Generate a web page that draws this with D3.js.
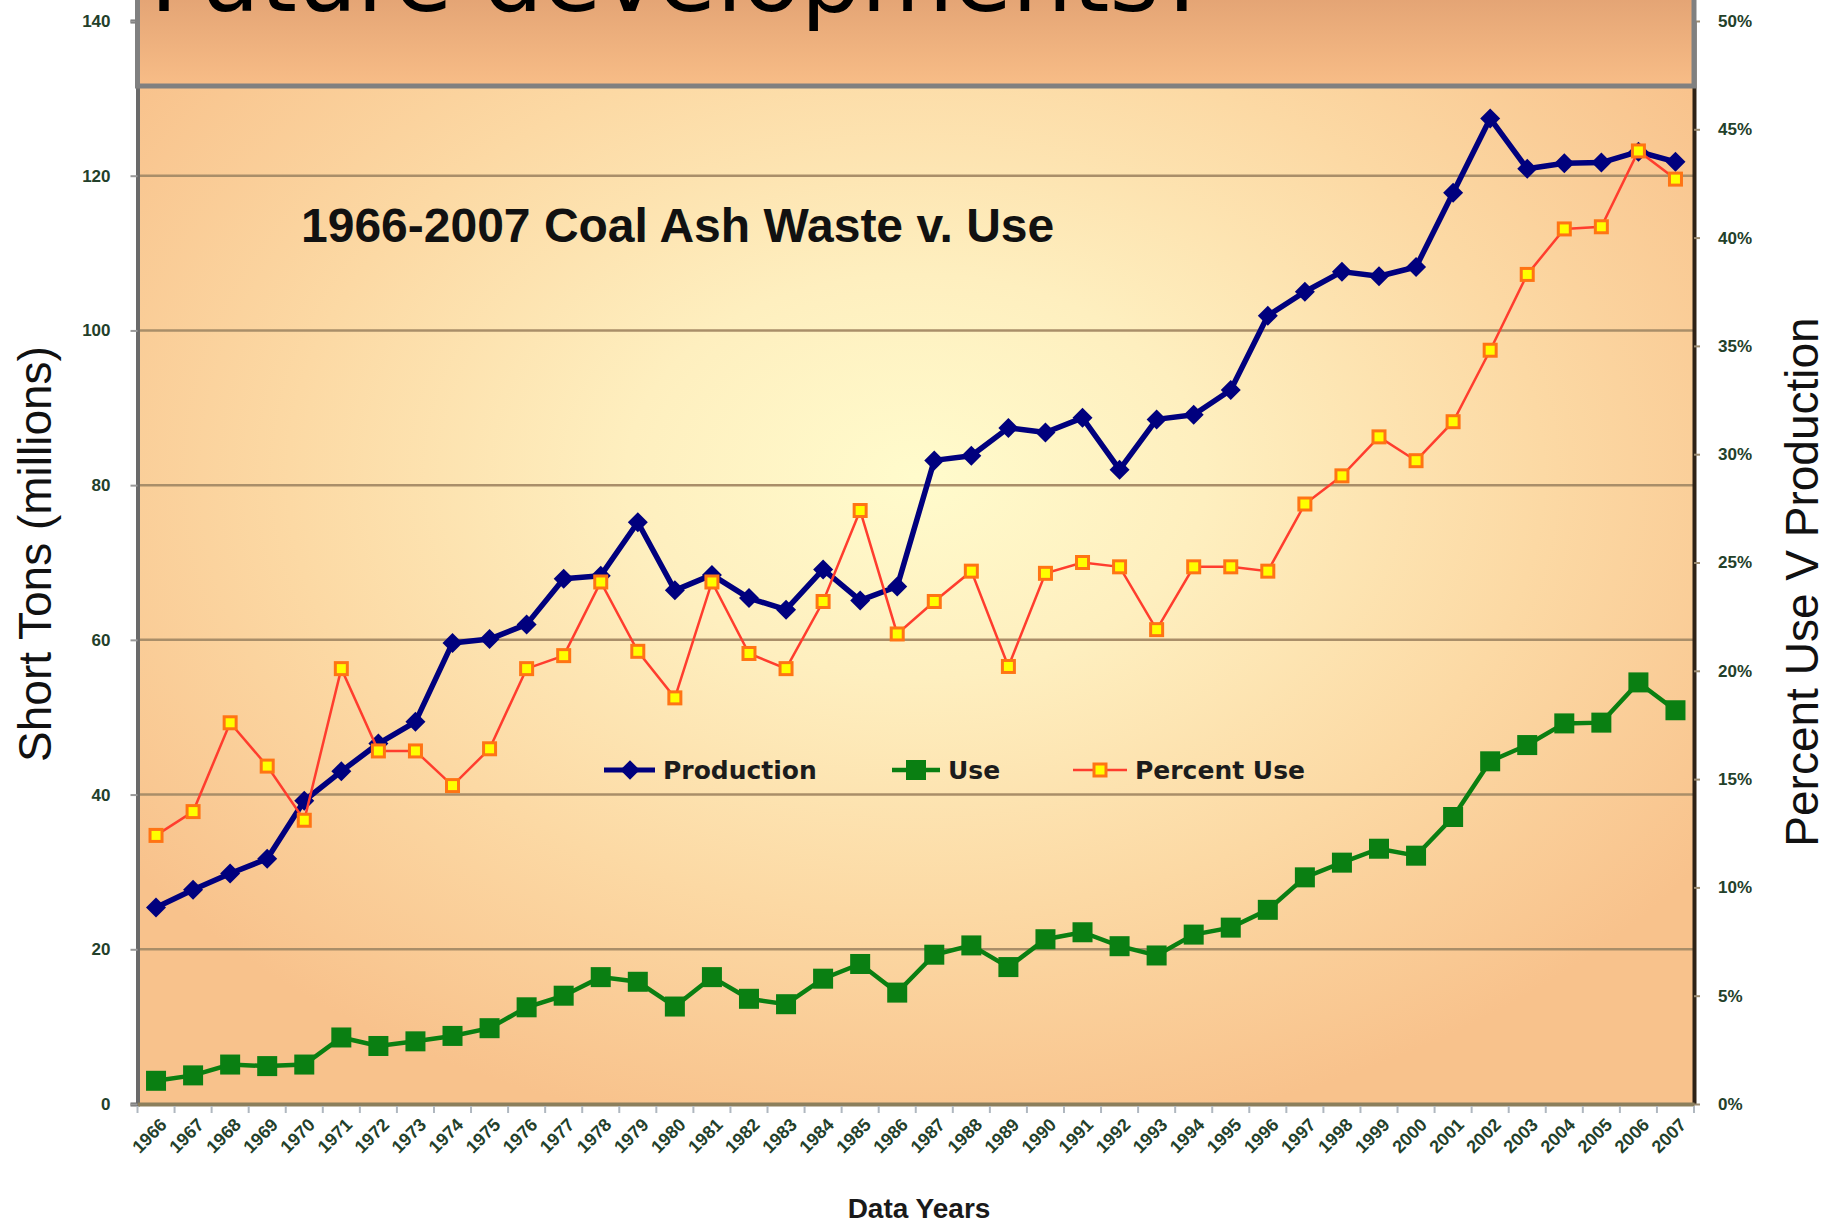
<!DOCTYPE html>
<html>
<head>
<meta charset="utf-8">
<script src="https://d3js.org/d3.v7.min.js"></script>
<title>Coal Ash Waste v. Use</title>
<style>
    body { margin: 0; background: #ffffff; }
    svg { display: block; }
</style>
</head>
<body>
<div id="chart"></div>
<script>
// Data years on the x axis
var years = ['1966', '1967', '1968', '1969', '1970', '1971', '1972', '1973', '1974', '1975',
             '1976', '1977', '1978', '1979', '1980', '1981', '1982', '1983', '1984', '1985',
             '1986', '1987', '1988', '1989', '1990', '1991', '1992', '1993', '1994', '1995',
             '1996', '1997', '1998', '1999', '2000', '2001', '2002', '2003', '2004', '2005',
             '2006', '2007'];

// Short tons (millions)
var production = [25.4, 27.7, 29.8, 31.7, 39.2, 43.0, 46.6, 49.4, 59.6, 60.1,
                  62.0, 67.9, 68.3, 75.2, 66.4, 68.4, 65.4, 63.9, 69.1, 65.1,
                  66.9, 83.2, 83.8, 87.4, 86.8, 88.7, 82.0, 88.5, 89.1, 92.3,
                  101.9, 105.0, 107.6, 107.0, 108.2, 117.8, 127.4, 120.9, 121.6, 121.7,
                  123.1, 121.8];
var use = [3.0, 3.7, 5.1, 4.9, 5.1, 8.6, 7.5, 8.1, 8.8, 9.8,
           12.5, 14.0, 16.4, 15.8, 12.6, 16.4, 13.6, 12.9, 16.2, 18.1,
           14.4, 19.3, 20.5, 17.7, 21.3, 22.2, 20.4, 19.2, 21.9, 22.8,
           25.1, 29.3, 31.2, 33.0, 32.1, 37.1, 44.3, 46.4, 49.2, 49.3,
           54.5, 50.9];

// Percent use v production (right axis)
var percentUse = [12.4, 13.5, 17.6, 15.6, 13.1, 20.1, 16.3, 16.3, 14.7, 16.4,
                  20.1, 20.7, 24.1, 20.9, 18.75, 24.1, 20.8, 20.1, 23.2, 27.4,
                  21.7, 23.2, 24.6, 20.2, 24.5, 25.0, 24.8, 21.9, 24.8, 24.8,
                  24.6, 27.7, 29.0, 30.8, 29.7, 31.5, 34.8, 38.3, 40.4, 40.5,
                  44.0, 42.7];

var leftTicks = [0, 20, 40, 60, 80, 100, 120, 140];
var rightTicks = [0, 5, 10, 15, 20, 25, 30, 35, 40, 45, 50];

var width = 1829, height = 1223;
var margin = {top: 21, right: 135, bottom: 119, left: 137.5};
var tickGreen = '#23402a';

var svg = d3.select('#chart').append('svg')
    .attr('width', width)
    .attr('height', height);

var defs = svg.append('defs');

// Pale yellow glow in the middle, orange towards the edges
var bg = defs.append('radialGradient')
    .attr('id', 'plotBg')
    .attr('cx', 0.5).attr('cy', 0.42).attr('r', 0.62);
bg.append('stop').attr('offset', '0%').attr('stop-color', '#fffbcc');
bg.append('stop').attr('offset', '30%').attr('stop-color', '#feefbf');
bg.append('stop').attr('offset', '65%').attr('stop-color', '#fcd9a4');
bg.append('stop').attr('offset', '100%').attr('stop-color', '#f8c28c');

var boxBg = defs.append('linearGradient')
    .attr('id', 'boxBg')
    .attr('x1', 0).attr('y1', 0).attr('x2', 0).attr('y2', 1);
boxBg.append('stop').attr('offset', '0%').attr('stop-color', '#e2a273');
boxBg.append('stop').attr('offset', '100%').attr('stop-color', '#f8bd87');

var x = d3.scaleBand()
    .domain(years)
    .range([margin.left, width - margin.right]);

var y = d3.scaleLinear()
    .domain([0, 140])
    .range([height - margin.bottom, margin.top]);

var yPct = d3.scaleLinear()
    .domain([0, 50])
    .range([height - margin.bottom, margin.top]);

var cx = function(d, i) { return x(years[i]) + x.bandwidth() / 2; };

// Plot area background
svg.append('rect')
    .attr('x', margin.left)
    .attr('y', margin.top)
    .attr('width', width - margin.left - margin.right)
    .attr('height', height - margin.top - margin.bottom)
    .attr('fill', 'url(#plotBg)');

// Horizontal gridlines
svg.append('g')
    .selectAll('line')
    .data(leftTicks.slice(1))
    .enter().append('line')
    .attr('x1', margin.left)
    .attr('x2', width - margin.right)
    .attr('y1', function(d) { return y(d); })
    .attr('y2', function(d) { return y(d); })
    .attr('stroke', '#a98e69')
    .attr('stroke-width', 2.5);

// Left axis
var leftAxis = svg.append('g')
    .attr('transform', 'translate(' + margin.left + ',0)')
    .call(d3.axisLeft(y).tickValues(leftTicks).tickSize(7).tickPadding(20));
leftAxis.select('.domain').attr('stroke', '#6a6a6a').attr('stroke-width', 4);
leftAxis.selectAll('.tick line').attr('stroke', '#9a9a9a').attr('stroke-width', 2);
leftAxis.selectAll('text')
    .attr('fill', tickGreen)
    .style('font', 'bold 17px "Liberation Sans", Arial, sans-serif');

// Right axis (percent)
var rightAxis = svg.append('g')
    .attr('transform', 'translate(' + (width - margin.right) + ',0)')
    .call(d3.axisRight(yPct).tickValues(rightTicks)
        .tickFormat(function(d) { return d + '%'; })
        .tickSizeInner(6).tickSizeOuter(0).tickPadding(18));
rightAxis.select('.domain').attr('stroke', '#2e2216').attr('stroke-width', 4);
rightAxis.selectAll('.tick line').attr('stroke', '#9a8a70').attr('stroke-width', 2);
rightAxis.selectAll('text')
    .attr('fill', tickGreen)
    .style('font', 'bold 17px "Liberation Sans", Arial, sans-serif');

// Bottom axis: year labels rotated, tick marks between categories
var bottomAxis = svg.append('g')
    .attr('transform', 'translate(0,' + (height - margin.bottom) + ')')
    .call(d3.axisBottom(x).tickSize(0).tickPadding(0));
bottomAxis.select('.domain').attr('stroke', '#8c7f5c').attr('stroke-width', 4);
bottomAxis.selectAll('.tick text')
    .attr('text-anchor', 'end')
    .attr('transform', 'translate(3,13) rotate(-45)')
    .attr('dy', '0.7em')
    .attr('fill', tickGreen)
    .style('font', 'bold 18px "Liberation Sans", Arial, sans-serif');

svg.append('g')
    .selectAll('line')
    .data(years.concat(['end']))
    .enter().append('line')
    .attr('x1', function(d, i) { return i < years.length ? x(d) : x(years[years.length - 1]) + x.bandwidth(); })
    .attr('x2', function(d, i) { return i < years.length ? x(d) : x(years[years.length - 1]) + x.bandwidth(); })
    .attr('y1', height - margin.bottom + 2)
    .attr('y2', height - margin.bottom + 9)
    .attr('stroke', '#b0b8c0')
    .attr('stroke-width', 2);

// Axis titles
svg.append('text')
    .attr('transform', 'translate(51,' + 554 + ') rotate(-90)')
    .attr('text-anchor', 'middle')
    .attr('fill', '#111')
    .style('font', '46px "Liberation Sans", Arial, sans-serif')
    .text('Short Tons (millions)');

svg.append('text')
    .attr('transform', 'translate(1818,' + 582 + ') rotate(-90)')
    .attr('text-anchor', 'middle')
    .attr('fill', '#111')
    .style('font', '46px "Liberation Sans", Arial, sans-serif')
    .text('Percent Use V Production');

svg.append('text')
    .attr('x', 919)
    .attr('y', 1218)
    .attr('text-anchor', 'middle')
    .attr('fill', '#1a1a1a')
    .style('font', 'bold 28px "Liberation Sans", Arial, sans-serif')
    .text('Data Years');

// Chart title
svg.append('text')
    .attr('x', 301)
    .attr('y', 242)
    .attr('fill', '#111')
    .style('font', 'bold 48px "Liberation Sans", Arial, sans-serif')
    .text('1966-2007 Coal Ash Waste v. Use');

// Lines
var prodLine = d3.line().x(cx).y(function(d) { return y(d); });
var pctLine = d3.line().x(cx).y(function(d) { return yPct(d); });

svg.append('path')
    .datum(production)
    .attr('d', prodLine)
    .attr('fill', 'none')
    .attr('stroke', '#00007e')
    .attr('stroke-width', 5.5)
    .attr('stroke-linejoin', 'round');

svg.append('g')
    .selectAll('path')
    .data(production)
    .enter().append('path')
    .attr('d', d3.symbol().type(d3.symbolSquare).size(200))
    .attr('transform', function(d, i) { return 'translate(' + cx(d, i) + ',' + y(d) + ') rotate(45)'; })
    .attr('fill', '#00007e');

svg.append('path')
    .datum(use)
    .attr('d', prodLine)
    .attr('fill', 'none')
    .attr('stroke', '#0a7f12')
    .attr('stroke-width', 4.5);

svg.append('g')
    .selectAll('rect')
    .data(use)
    .enter().append('rect')
    .attr('x', function(d, i) { return cx(d, i) - 10; })
    .attr('y', function(d) { return y(d) - 10; })
    .attr('width', 20)
    .attr('height', 20)
    .attr('fill', '#0a7f12');

svg.append('path')
    .datum(percentUse)
    .attr('d', pctLine)
    .attr('fill', 'none')
    .attr('stroke', '#ff3d2e')
    .attr('stroke-width', 2.5);

svg.append('g')
    .selectAll('rect')
    .data(percentUse)
    .enter().append('rect')
    .attr('x', function(d, i) { return cx(d, i) - 6; })
    .attr('y', function(d) { return yPct(d) - 6; })
    .attr('width', 12)
    .attr('height', 12)
    .attr('fill', '#ffff00')
    .attr('stroke', '#ff7414')
    .attr('stroke-width', 3);

// Legend
var legendItems = [
    {name: 'Production', text: 663},
    {name: 'Use', text: 948},
    {name: 'Percent Use', text: 1135}
];
var ly = 770;
var legend = svg.append('g');

legend.append('line').attr('x1', 604).attr('x2', 655).attr('y1', ly).attr('y2', ly)
    .attr('stroke', '#00007e').attr('stroke-width', 5);
legend.append('path')
    .attr('d', d3.symbol().type(d3.symbolSquare).size(190))
    .attr('transform', 'translate(630,' + ly + ') rotate(45)')
    .attr('fill', '#00007e');

legend.append('line').attr('x1', 892).attr('x2', 940).attr('y1', ly).attr('y2', ly)
    .attr('stroke', '#0a7f12').attr('stroke-width', 4.5);
legend.append('rect').attr('x', 906).attr('y', ly - 10).attr('width', 20).attr('height', 20)
    .attr('fill', '#0a7f12');

legend.append('line').attr('x1', 1073).attr('x2', 1127).attr('y1', ly).attr('y2', ly)
    .attr('stroke', '#ff3d2e').attr('stroke-width', 2.5);
legend.append('rect').attr('x', 1094).attr('y', ly - 6).attr('width', 12).attr('height', 12)
    .attr('fill', '#ffff00').attr('stroke', '#ff7414').attr('stroke-width', 3);

legend.selectAll('text')
    .data(legendItems)
    .enter().append('text')
    .attr('x', function(d) { return d.text; })
    .attr('y', ly + 9)
    .attr('fill', '#1c1c1c')
    .style('font', 'bold 25px "DejaVu Sans", Verdana, sans-serif')
    .text(function(d) { return d.name; });

// Slide title box laid over the top of the chart (its text runs off the top edge)
svg.append('rect')
    .attr('x', margin.left)
    .attr('y', -10)
    .attr('width', width - margin.left - margin.right)
    .attr('height', 96)
    .attr('fill', 'url(#boxBg)')
    .attr('stroke', '#808080')
    .attr('stroke-width', 5);

svg.append('text')
    .attr('x', 150)
    .attr('y', 11)
    .attr('fill', '#000')
    .style('font', '95px "DejaVu Sans", Verdana, sans-serif')
    .text('Future developments?');
</script>
</body>
</html>
